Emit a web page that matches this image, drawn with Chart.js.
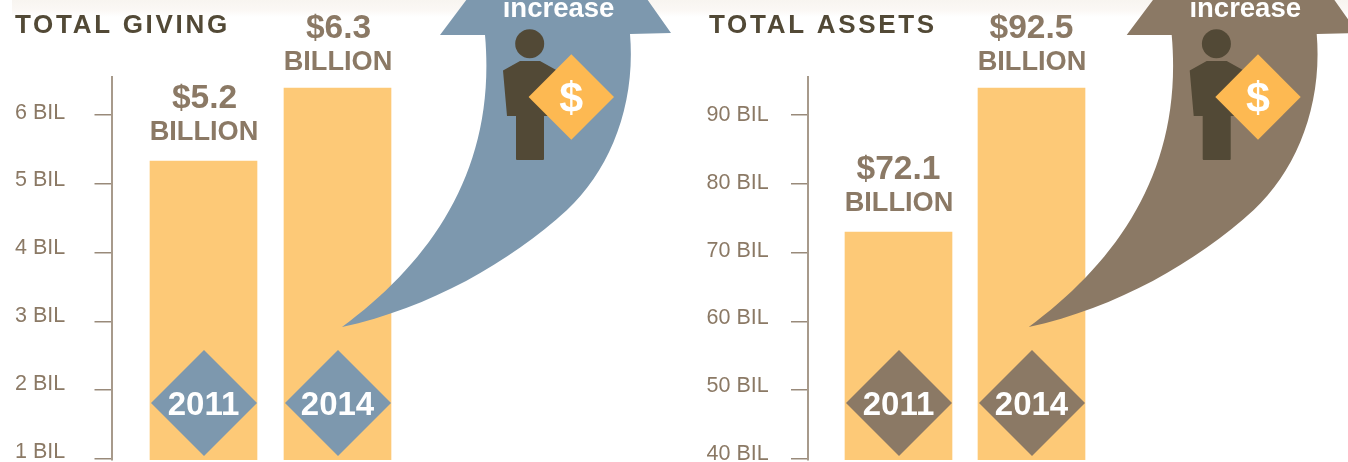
<!DOCTYPE html>
<html><head><meta charset="utf-8">
<style>
html,body{margin:0;padding:0;background:#fff;width:1348px;height:462px;overflow:hidden}
#band{position:absolute;left:12px;top:0;width:1336px;height:17px;background:linear-gradient(#f8f5f0,#fbf8f5 60%,#fff)}
canvas{position:absolute;top:0}
</style>
<script src="https://cdn.jsdelivr.net/npm/chart.js@4"></script>
</head><body>
<div id="band"></div>
<div style="position:absolute;left:0;top:0;width:674px;height:462px"><canvas id="giving"></canvas></div>
<div style="position:absolute;left:674px;top:0;width:674px;height:462px"><canvas id="assets"></canvas></div>
<script>
const years = [2011, 2014];
const givingValues = [5.2, 6.3];
const assetsValues = [72.1, 92.5];
const givingTicks = [1, 2, 3, 4, 5, 6];
const assetsTicks = [40, 50, 60, 70, 80, 90];
const givingLabels = ['$5.2', '$6.3'];
const assetsLabels = ['$72.1', '$92.5'];

const BROWN = '#8b7965', BLUE = '#7d98ae', DARK = '#524936', BAR = '#fdc977', GOLD = '#fdb952';
const FONT = '"Liberation Sans", Arial, sans-serif';

function txt(ctx, s, x, y, font, color, align, spacing) {
  ctx.font = font; ctx.fillStyle = color; ctx.textAlign = align || 'center';
  ctx.textBaseline = 'alphabetic'; ctx.letterSpacing = spacing || '0px';
  ctx.fillText(s, x, y); ctx.letterSpacing = '0px';
}
function diamond(ctx, cx, cy, r, color) {
  ctx.fillStyle = color; ctx.beginPath();
  ctx.moveTo(cx, cy - r); ctx.lineTo(cx + r, cy); ctx.lineTo(cx, cy + r); ctx.lineTo(cx - r, cy);
  ctx.closePath(); ctx.fill();
}
function arrow(ctx, dx, color) {
  ctx.save(); ctx.translate(dx, 0);
  ctx.fillStyle = color; ctx.beginPath();
  ctx.moveTo(342, 327);
  ctx.bezierCurveTo(430, 262, 497, 170, 485, 35);
  ctx.lineTo(440, 35); ctx.lineTo(467, -1); ctx.lineTo(647, -1); ctx.lineTo(671, 33); ctx.lineTo(630, 34);
  ctx.bezierCurveTo(636, 105, 610, 170, 567, 210);
  ctx.bezierCurveTo(510, 262, 430, 308, 342, 327);
  ctx.closePath(); ctx.fill();
  txt(ctx, 'increase', 558.5, 16.5, 'bold 27.5px ' + FONT, '#fff');
  ctx.fillStyle = DARK;
  ctx.beginPath(); ctx.arc(529.7, 43.7, 14.5, 0, Math.PI * 2); ctx.fill();
  ctx.beginPath();
  ctx.moveTo(503, 70.5); ctx.lineTo(520, 61); ctx.lineTo(540, 61); ctx.lineTo(558, 71);
  ctx.lineTo(556, 116); ctx.lineTo(544, 116); ctx.lineTo(544, 159); ctx.quadraticCurveTo(544, 160, 543, 160);
  ctx.lineTo(517, 160); ctx.quadraticCurveTo(516, 160, 516, 159); ctx.lineTo(516, 116); ctx.lineTo(507, 116);
  ctx.closePath(); ctx.fill();
  diamond(ctx, 571.3, 97, 42.7, GOLD);
  txt(ctx, '$', 571.3, 112, 'bold 43px ' + FONT, '#fff');
  ctx.restore();
}

function makeChart(id, cfg) {
  const deco = {
    id: 'deco',
    afterDatasetsDraw(chart) {
      const ctx = chart.ctx;
      txt(ctx, cfg.title, cfg.titleX, 33, 'bold 26px ' + FONT, DARK, 'left', '2.7px');
      const bars = chart.getDatasetMeta(0).data;
      const gaps = [21.5, 18.5];
      bars.forEach((b, i) => {
        txt(ctx, 'BILLION', b.x + 0.5, b.y - gaps[i], 'bold 27.2px ' + FONT, BROWN);
        txt(ctx, cfg.labels[i], b.x + cfg.valueDx, b.y - gaps[i] - 32, 'bold 33.5px ' + FONT, BROWN);
        diamond(ctx, b.x + 0.5, chart.chartArea.bottom - 57, 53, cfg.color);
        txt(ctx, String(years[i]), b.x + 0, chart.chartArea.bottom - 45, 'bold 33px ' + FONT, '#fff');
      });
      arrow(ctx, cfg.arrowDx, cfg.color);
    }
  };
  return new Chart(document.getElementById(id), {
    type: 'bar',
    plugins: [deco],
    data: { datasets: [{
      data: years.map((y, i) => ({ x: y, y: cfg.values[i] })),
      backgroundColor: BAR, barThickness: 107, yAxisID: 'yb', xAxisID: 'x', borderWidth: 0
    }]},
    options: {
      responsive: false, animation: false, events: [],
      layout: { padding: { left: cfg.padLeft, top: 77, bottom: 2, right: 0 } },
      plugins: { legend: { display: false }, title: { display: false }, tooltip: { enabled: false } },
      scales: {
        x: { type: 'linear', display: false, offset: false, min: cfg.xMin, max: cfg.xMax, grid: { display: false, offset: false } },
        yb: { display: false, position: 'left', min: cfg.bar[0], max: cfg.bar[1] },
        y: {
          position: 'left', weight: 0, min: cfg.tick[0], max: cfg.tick[1],
          border: { display: true, color: '#a79a8b', width: 2 },
          grid: { drawOnChartArea: false, drawTicks: true, tickLength: 17, color: '#998a7a', lineWidth: 1.5 },
          ticks: { display: false, stepSize: cfg.step, includeBounds: false },
          afterFit(s) { s.width = 17; s.paddingTop = 0; s.paddingBottom = 0; }
        },
        yl: {
          position: 'left', weight: 1, min: cfg.label[0], max: cfg.label[1],
          border: { display: false }, grid: { display: false },
          ticks: {
            stepSize: cfg.step, includeBounds: false, autoSkip: false, crossAlign: 'far', padding: 0,
            color: BROWN, font: { family: FONT, size: 21.5 },
            callback: v => cfg.ticks.includes(v) ? v + ' BIL' : ''
          },
          afterFit(s) { s.width = cfg.labelW; s.paddingTop = 0; s.paddingBottom = 0; }
        }
      }
    }
  });
}
function size(id){ const c=document.getElementById(id); c.width=674; c.height=462; c.style.width='674px'; c.style.height='462px'; }
size('giving'); size('assets');

makeChart('giving', {
  title: 'TOTAL GIVING', titleX: 15, values: givingValues, labels: givingLabels, ticks: givingTicks, color: BLUE,
  padLeft: 15, labelW: 79.5, step: 1, arrowDx: 0, valueDx: 1,
  xMin: 2011 - 92 / (134 / 3), xMax: 2011 + (674 - 203.5) / (134 / 3),
  bar: [0.694, 6.466], tick: [0.985, 6.552], label: [0.879, 6.526]
});
makeChart('assets', {
  title: 'TOTAL ASSETS', titleX: 35, values: assetsValues, labels: assetsLabels, ticks: assetsTicks, color: BROWN,
  padLeft: 32.5, labelW: 84.5, step: 10, arrowDx: 12.7, valueDx: 0,
  xMin: 2011 - (224.5 - 134) / (133 / 3), xMax: 2011 + (674 - 224.5) / (133 / 3),
  bar: [39.8, 94.06], tick: [39.855, 95.52], label: [39.114, 95.654]
});
</script>
</body></html>
